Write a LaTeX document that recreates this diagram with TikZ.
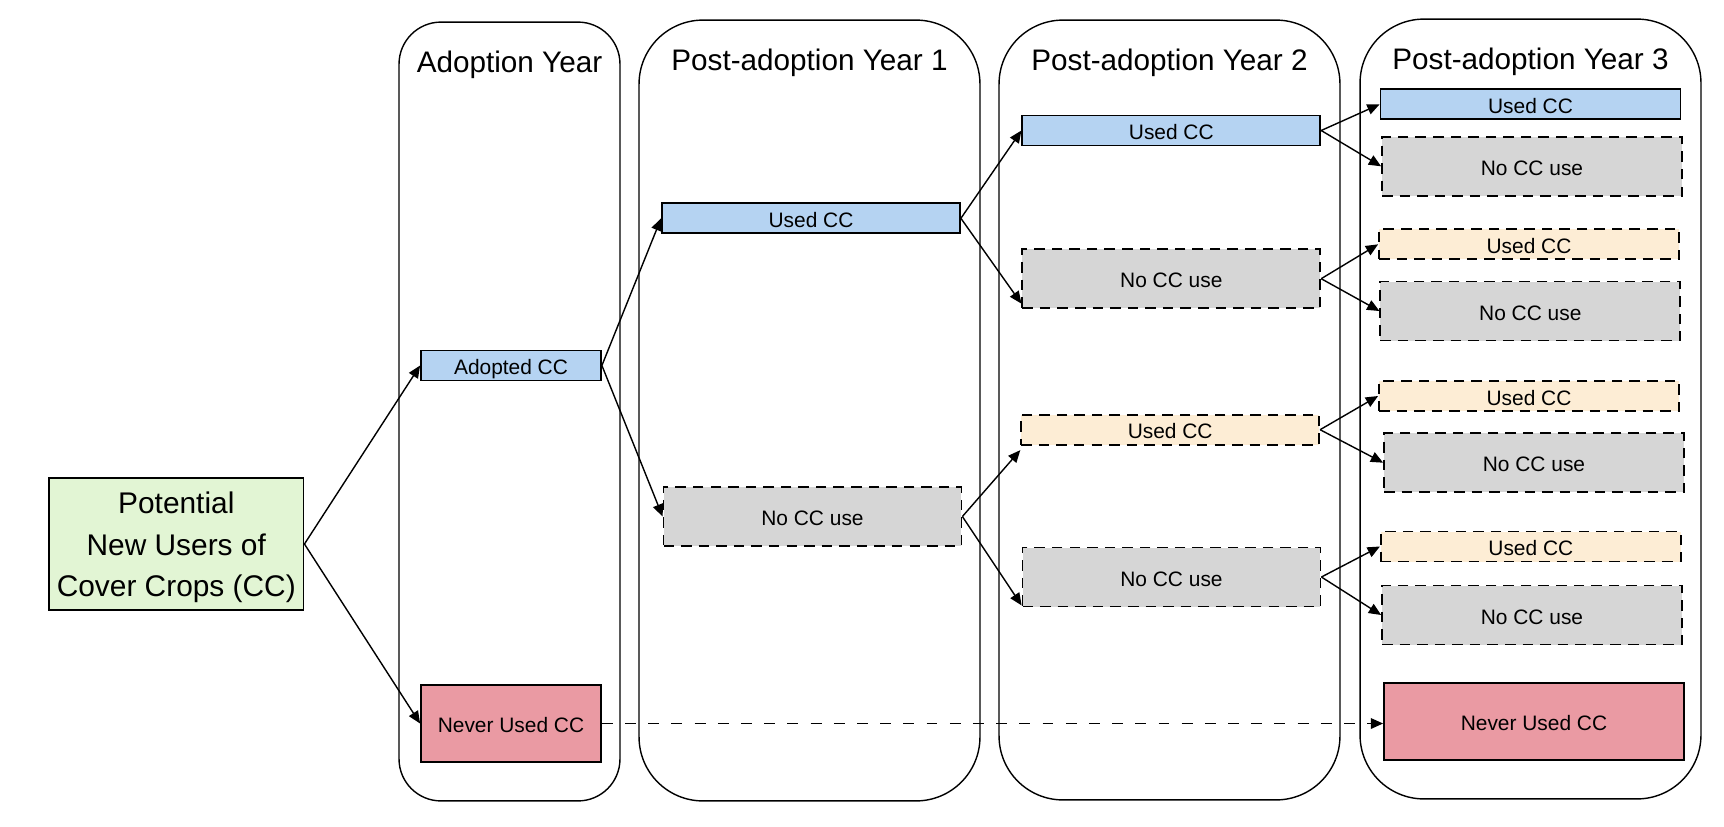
\documentclass[tikz,border=0pt]{standalone}
\usepackage{fontspec}
\setmainfont{Liberation Sans}
\definecolor{UsedBlue}{HTML}{B5D3F2}
\definecolor{NoUseGrey}{HTML}{D6D6D6}
\definecolor{TrialBeige}{HTML}{FDEDD5}
\definecolor{NeverPink}{HTML}{EA9AA3}
\definecolor{StartGreen}{HTML}{E2F5D4}
\usetikzlibrary{arrows.meta, positioning}

\begin{document}
\begin{tikzpicture}[
  x=0.02cm, y=-0.02cm,
  yearcol/.style={rectangle, rounded corners=1.28cm, draw=black, line width=0.8pt, minimum width=6.82cm, minimum height=15.6cm},
  coltitle/.style={anchor=base, font=\fontsize{16.9}{20}\selectfont},
  cell/.style={rectangle, draw=black, line width=1.05pt, inner sep=0pt, minimum width=5.96cm, text height=0.36cm, text depth=0pt, font=\fontsize{11.9}{14}\selectfont},
  usedcc/.style={cell, fill=UsedBlue, minimum height=0.6cm},
  trycc/.style={cell, fill=TrialBeige, dash pattern=on 6pt off 4pt, minimum height=0.6cm},
  nocc/.style={cell, fill=NoUseGrey, dash pattern=on 6pt off 4pt, minimum height=1.18cm},
  nevercc/.style={cell, fill=NeverPink, minimum height=1.54cm},
  startbox/.style={rectangle, draw=black, fill=StartGreen, line width=1.05pt, inner sep=0pt, minimum width=5.09cm, minimum height=2.64cm, align=center, font=\fontsize{17}{23.8}\selectfont},
  arrow/.style={-{Triangle[length=7pt,width=6pt]}, line width=0.8pt}
]
  \fill[white, use as bounding box] (0,0) rectangle (1724,826);

  % year columns
  \node[yearcol, minimum width=4.42cm, minimum height=15.58cm, rounded corners=0.84cm] (col0) at (509.5,411.5) {};
  \node[yearcol, minimum height=15.62cm] (col1) at (809.5,410.5) {};
  \node[yearcol] (col2) at (1169.5,410) {};
  \node[yearcol] (col3) at (1530.5,409) {};

  \node[coltitle] (t0) at ([yshift=-1.03cm]col0.north) {Adoption Year};
  \node[coltitle] (t1) at ([yshift=-1.03cm]col1.north) {Post-adoption Year 1};
  \node[coltitle] (t2) at ([yshift=-1.03cm]col2.north) {Post-adoption Year 2};
  \node[coltitle] (t3) at ([yshift=-1.03cm]col3.north) {Post-adoption Year 3};

  % start and adoption year
  \node[startbox] (pot) at (176.3,544) {\rule{0pt}{0.57cm}Potential\\New Users of\\Cover Crops (CC)};
  \node[usedcc, minimum width=3.6cm] (adopt) at (511,365.5) {Adopted CC};
  \node[nevercc, minimum width=3.6cm] (never0) at (511,723.5) {Never Used CC};

  % year 1
  \node[usedcc] (y1used) at (811,218.3) {Used CC};
  \node[nocc] (y1no) at (812.5,516.5) {No CC use};

  % year 2
  \node[usedcc] (y2used) at (1171.3,130.5) {Used CC};
  \node[nocc] (y2no) at (1171.3,278.7) {No CC use};
  \node[trycc] (y2try) at (1170.2,429.7) {Used CC};
  \node[nocc] (y2nob) at (1171.5,577) {No CC use};

  % year 3
  \node[usedcc, minimum width=6cm] (y3used) at (1530.5,104.3) {Used CC};
  \node[nocc, minimum width=6cm] (y3noa) at (1532,166.3) {No CC use};
  \node[trycc, minimum width=6cm] (y3trya) at (1529,244.3) {Used CC};
  \node[nocc, minimum width=6cm] (y3nob) at (1530.3,311) {No CC use};
  \node[trycc, minimum width=6cm] (y3tryb) at (1529,396) {Used CC};
  \node[nocc, minimum width=6cm] (y3noc) at (1534,462.7) {No CC use};
  \node[trycc, minimum width=6cm] (y3tryc) at (1530.8,546.5) {Used CC};
  \node[nocc, minimum width=6cm] (y3nod) at (1532,615) {No CC use};
  \node[nevercc, minimum width=6cm] (never3) at (1534,721.4) {Never Used CC};

  \draw[arrow] (pot.east) -- (adopt.west);
  \draw[arrow] (pot.east) -- (never0.west);
  \draw[arrow] (adopt.east) -- (y1used.west);
  \draw[arrow] (adopt.east) -- (y1no.west);

  \draw[arrow] (y1used.east) -- (y2used.west);
  \draw[arrow] (y1used.east) -- ([yshift=0.11cm]y2no.south west);
  \draw[arrow] (y1no.east) -- ([yshift=-0.09cm]y2try.south west);
  \draw[arrow] (y1no.east) -- ([yshift=0.04cm]y2nob.south west);

  \draw[arrow] (y2used.east) -- (y3used.west);
  \draw[arrow] (y2used.east) -- (y3noa.west);
  \draw[arrow] (y2no.east) -- (y3trya.west);
  \draw[arrow] (y2no.east) -- (y3nob.west);
  \draw[arrow] (y2try.east) -- (y3tryb.west);
  \draw[arrow] (y2try.east) -- (y3noc.west);
  \draw[arrow] (y2nob.east) -- (y3tryc.west);
  \draw[arrow] (y2nob.east) -- (y3nod.west);

  \draw[arrow, line width=1pt, dash pattern=on 6.2pt off 7pt] (never0.east) -- (never0.east -| never3.west);
\end{tikzpicture}
\end{document}
